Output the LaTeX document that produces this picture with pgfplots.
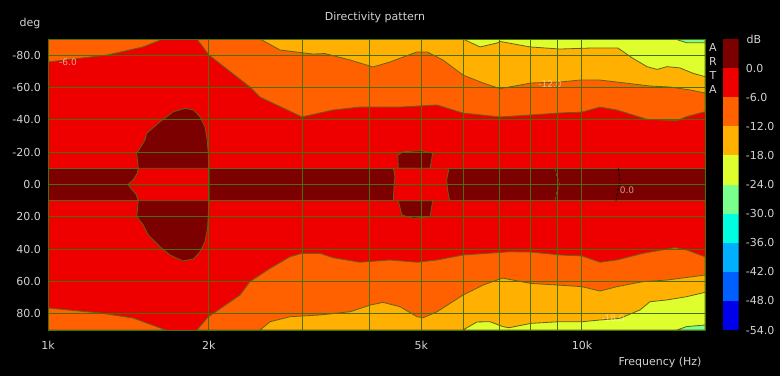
\documentclass[border=0pt]{standalone}
\usepackage{pgfplots}
\pgfplotsset{compat=1.18}
\usepackage{fontspec}
\setmainfont{DejaVu Sans}
\definecolor{dkred}{RGB}{125,0,0}
\definecolor{cred}{RGB}{238,0,0}
\definecolor{corange}{RGB}{255,96,0}
\definecolor{cyellow}{RGB}{255,176,0}
\definecolor{cyg}{RGB}{222,255,45}
\definecolor{clg}{RGB}{120,255,140}
\definecolor{ccyan}{RGB}{0,255,225}
\definecolor{csky}{RGB}{0,175,255}
\definecolor{cblue}{RGB}{0,95,255}
\definecolor{cdblue}{RGB}{0,0,235}
\definecolor{gridc}{RGB}{72,112,8}
\definecolor{contc}{RGB}{95,100,22}
\definecolor{txt}{RGB}{210,210,210}
\begin{document}
\begin{tikzpicture}[x=1pt,y=1pt]
\path[use as bounding box, fill=black] (0,0) rectangle (780,376);
\begin{axis}[
  at={(48pt,46pt)}, anchor=south west,
  scale only axis, width=657pt, height=291pt,
  xmode=log, xmin=1000, xmax=17000,
  ymin=-90, ymax=90, y dir=reverse,
  axis on top, no markers,
  axis background/.style={fill=cred},
  xtick={1000,2000,5000,10000}, xticklabels={1k,2k,5k,10k},
  minor xtick={3000,4000,6000,7000,8000,9000},
  ytick={-80,-60,-40,-20,0,20,40,60,80},
  yticklabels={-80.0,-60.0,-40.0,-20.0,0.0,20.0,40.0,60.0,80.0},
  grid=both,
  major grid style={gridc, line width=1pt},
  minor grid style={gridc, line width=1pt},
  axis line style={gridc, line width=1pt},
  tick style={draw=none},
  ticklabel style={text=txt, font=\fontsize{11}{13}\selectfont},
  yticklabel style={anchor=east, inner sep=0pt, xshift=-7pt},
  xticklabel style={anchor=north, inner sep=0pt, yshift=-11pt},
  every axis plot/.append style={draw=contc, line width=0.8pt},
]
% top half
\addplot[fill=corange] coordinates {(1000,-90) (1000,-75.8) (1290,-80.1) (1506,-85.1) (1642,-90)} -- cycle;
\addplot[fill=corange] coordinates {(1901,-90) (2002,-80.1) (2389,-60.3) (2495,-54.1) (2990,-41.8) (3418,-46.1) (3840,-47.9) (4563,-47.9) (5352,-49.2) (5987,-44.2) (7022,-41.8) (8026,-43.0) (9016,-44.2) (10000,-44.8) (10807,-47.9) (11620,-46.1) (12460,-43.0) (13240,-40.3) (15070,-39.5) (15700,-42.0) (17000,-45.0) (17000,-90)} -- cycle;
\addplot[fill=cyellow] coordinates {(2495,-90) (2719,-83.2) (3135,-80.7) (3300,-81.0) (3678,-77.0) (4061,-72.7) (4370,-75.8) (4910,-82.0) (5126,-82.0) (5492,-77.0) (5987,-67.7) (6526,-62.8) (7022,-59.3) (7655,-61.5) (8026,-62.8) (9094,-63.4) (9914,-64.6) (10807,-64.6) (12040,-62.8) (13408,-60.9) (14616,-60.3) (15932,-58.5) (17000,-56.6) (17000,-90)} -- cycle;
\addplot[fill=cyg] coordinates {(5987,-90) (6442,-85.1) (6932,-87.5) (7022,-88.5) (7992,-85.1) (9094,-83.8) (10351,-84.4) (11678,-84.4) (12460,-78.0) (13240,-72.9) (13820,-71.2) (14430,-72.9) (15260,-72.1) (16140,-68.8) (17000,-66.7) (17000,-90)} -- cycle;
\addplot[fill=clg] coordinates {(14934,-90) (15700,-87.7) (17000,-87.7) (17000,-90)} -- cycle;
% bottom half
\addplot[fill=corange] coordinates {(1000,90) (1000,76.4) (1251,79.5) (1443,82.6) (1660,90)} -- cycle;
\addplot[fill=corange] coordinates {(1901,90) (1994,82.0) (2288,68.4) (2389,60.1) (2605,51.9) (2839,44.7) (2990,42.6) (3230,42.6) (3418,45.3) (3840,48.1) (4370,46.7) (4910,48.1) (5352,46.7) (5987,43.6) (7331,41.6) (8026,41.8) (9094,43.6) (10000,44.2) (10807,48.1) (11620,46.7) (13000,42.6) (14934,39.1) (15700,40.5) (17000,44.7) (17000,90)} -- cycle;
\addplot[fill=cyellow] coordinates {(2495,90) (2605,84.9) (2839,81.8) (3230,80.7) (3678,78.7) (4009,74.6) (4240,72.9) (4563,75.6) (4910,81.8) (5040,82.4) (5352,78.7) (5987,68.4) (6526,62.2) (7100,57.9) (8026,61.2) (9016,62.2) (10000,63.2) (10807,65.9) (11620,63.2) (13000,60.1) (14430,59.1) (17000,56.0) (17000,90)} -- cycle;
\addplot[fill=cyg] coordinates {(5987,90) (6360,85.0) (6730,84.9) (7110,87.9) (7300,88.6) (8026,85.9) (9016,84.9) (10000,84.9) (10807,83.8) (11780,82.8) (12843,77.6) (13408,72.5) (14430,71.4) (15700,69.4) (17000,66.7) (17000,90)} -- cycle;
\addplot[fill=clg] coordinates {(15070,90) (15700,87.9) (17000,86.9) (17000,90)} -- cycle;
% central band
\addplot[fill=dkred] coordinates {(1000,-10) (17000,-10) (17000,10) (1000,10)} -- cycle;
% lobe near 1.5-2 kHz
\addplot[fill=dkred] coordinates {(1476,-10) (1466,-19.3) (1519,-27.5) (1530,-31.7) (1621,-38.8) (1717,-45.0) (1805,-47.1) (1872,-46.1) (1926,-41.9) (1968,-35.7) (1987,-27.5) (1996,-19.3) (2002,-10) (2002,10) (1996,18.9) (1990,27.1) (1968,35.4) (1926,41.6) (1872,46.1) (1788,47.3) (1692,43.6) (1621,38.5) (1541,31.2) (1508,25.1) (1466,19.9) (1476,10)} -- cycle;
\addplot[fill=cred] coordinates {(1476,-10) (1470,-7) (1445,-3) (1412,0) (1435,3) (1462,6) (1476,10) (2002,10) (2002,-10)} -- cycle;
% near 5 kHz
\addplot[fill=dkred] coordinates {(4529,-10) (4519,-18.2) (4629,-20.3) (5011,-20.9) (5253,-19.3) (5193,-10)} -- cycle;
\addplot[fill=dkred] coordinates {(4529,10) (4598,18.9) (4826,20.9) (5193,19.9) (5253,10)} -- cycle;
\addplot[fill=cred] coordinates {(4434,-10) (4465,-5) (4450,0) (4440,5) (4434,10) (5650,10) (5600,3) (5580,-3) (5636,-10)} -- cycle;
% contour lines inside the band
\addplot coordinates {(8900,-10) (8970,-5) (9094,0) (8970,4.3) (8900,10)};
\addplot coordinates {(11690,-10) (11780,-3) (11690,3) (11620,7) (11580,10)};
% contour labels
\node[text=white, opacity=0.6, font=\fontsize{9}{10}\selectfont] at (axis cs:1090,-75.8) {-6.0};
\node[text=white, opacity=0.5, font=\fontsize{9}{10}\selectfont] at (axis cs:8710,-62.2) {-12.0};
\node[text=white, opacity=0.6, font=\fontsize{9}{10}\selectfont] at (axis cs:12140,3.7) {0.0};
\node[text=white, opacity=0.45, font=\fontsize{9}{10}\selectfont] at (axis cs:11430,82.6) {-18.0};
\end{axis}
% colour bar
\begin{axis}[
  at={(722.7pt,46pt)}, anchor=south west,
  scale only axis, width=16pt, height=291pt,
  xmin=0, xmax=1, ymin=-54, ymax=6,
  hide x axis, axis line style={draw=none}, tick style={draw=none},
  ytick={-54,-48,-42,-36,-30,-24,-18,-12,-6,0},
  yticklabels={-54.0,-48.0,-42.0,-36.0,-30.0,-24.0,-18.0,-12.0,-6.0,0.0},
  yticklabel pos=right,
  yticklabel style={anchor=west, inner sep=0pt, xshift=7pt, text=txt, font=\fontsize{11}{13}\selectfont},
  no markers,
]
\addplot[fill=dkred, draw=none] coordinates {(0,0) (1,0) (1,6) (0,6)} -- cycle;
\addplot[fill=cred, draw=none] coordinates {(0,-6) (1,-6) (1,0) (0,0)} -- cycle;
\addplot[fill=corange, draw=none] coordinates {(0,-12) (1,-12) (1,-6) (0,-6)} -- cycle;
\addplot[fill=cyellow, draw=none] coordinates {(0,-18) (1,-18) (1,-12) (0,-12)} -- cycle;
\addplot[fill=cyg, draw=none] coordinates {(0,-24) (1,-24) (1,-18) (0,-18)} -- cycle;
\addplot[fill=clg, draw=none] coordinates {(0,-30) (1,-30) (1,-24) (0,-24)} -- cycle;
\addplot[fill=ccyan, draw=none] coordinates {(0,-36) (1,-36) (1,-30) (0,-30)} -- cycle;
\addplot[fill=csky, draw=none] coordinates {(0,-42) (1,-42) (1,-36) (0,-36)} -- cycle;
\addplot[fill=cblue, draw=none] coordinates {(0,-48) (1,-48) (1,-42) (0,-42)} -- cycle;
\addplot[fill=cdblue, draw=none] coordinates {(0,-54) (1,-54) (1,-48) (0,-48)} -- cycle;
\end{axis}
% texts
\node[text=txt, font=\fontsize{11}{13}\selectfont] at (375,359) {Directivity pattern};
\node[text=txt, font=\fontsize{11}{13}\selectfont] at (30,353) {deg};
\node[text=txt, font=\fontsize{11}{13}\selectfont, anchor=east] at (705,14) {Frequency (Hz)};
\node[text=txt, font=\fontsize{11}{13}\selectfont] at (754,337) {dB};
\node[text=txt, font=\fontsize{11}{13}\selectfont] at (713,329) {A};
\node[text=txt, font=\fontsize{11}{13}\selectfont] at (713,315) {R};
\node[text=txt, font=\fontsize{11}{13}\selectfont] at (713,301) {T};
\node[text=txt, font=\fontsize{11}{13}\selectfont] at (713,287) {A};
\end{tikzpicture}
\end{document}
